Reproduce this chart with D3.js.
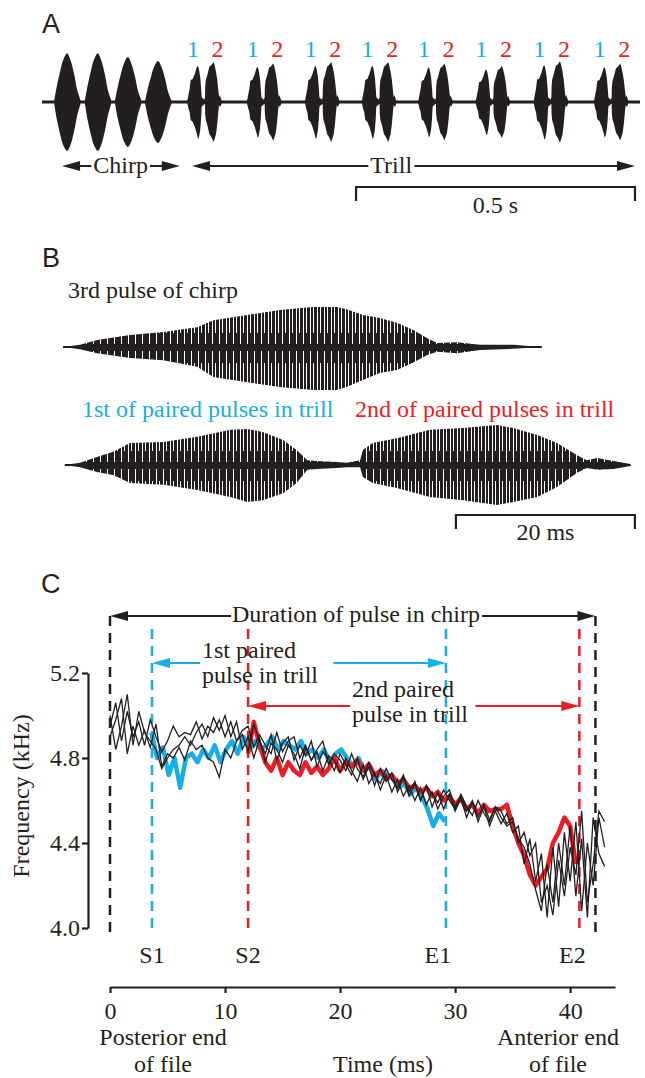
<!DOCTYPE html>
<html>
<head>
<meta charset="utf-8">
<script src="https://cdn.jsdelivr.net/npm/d3@7"></script>
<style>
body { margin: 0; background: #fff; }
</style>
</head>
<body>
<svg id="fig" width="645" height="1078" font-family="Liberation Serif, Times New Roman, serif"></svg>
<script>
var ink = '#231f20', cyan = '#16aee6', red = '#ec1d25';
var serif = '"Liberation Serif","Times New Roman",serif';
var sans = '"Liberation Sans",Arial,sans-serif';
var fs = 24; // text size used all over the figure

// ---------- A: oscillogram (pulse onset in ms, relative size) ----------
var chirpOnsets = [22, 77, 131, 185];
var chirpPeaks = [1.11, 1.11, 1.02, 0.93];
var pairOnsets = [259, 366, 470, 572, 673, 776, 880, 988];
var pairPeaks = [1.0, 0.97, 1.0, 1.0, 0.96, 0.9, 1.02, 0.96];
// chirp pulse outline as seen at the slow time base of A
var aChirpT   = [0, 5, 11, 16, 23, 29, 36, 41, 47];
var aChirpTop = [4, 35, 65, 86, 100, 86, 55, 25, 4];
var aChirpBot = [4, 38, 68, 88, 100, 88, 58, 28, 4];

// ---------- B: envelopes (ms, % of peak above / below baseline) ----------
var chirpEnvT   = [0, 1.9, 3.8, 7.5, 11.2, 15.0, 16.8, 20.6, 24.2, 27.9, 30.6, 31.7, 33.5, 35.4, 37.3, 39.1, 40.7, 41.8, 44.0, 46.6, 50.3, 53.5];
var chirpEnvTop = [0, 5, 16, 27, 34, 45, 61, 73, 84, 91, 91, 86, 73, 66, 55, 39, 20, 9, 11, 5, 5, 0];
var chirpEnvBot = [0, 5, 14, 25, 30, 45, 68, 80, 91, 98, 98, 91, 75, 59, 52, 36, 18, 11, 14, 7, 4, 0];

var trillEnvT   = [0.2, 1.9, 3.8, 5.6, 7.5, 11.2, 15.0, 18.7, 20.6, 22.3, 24.6, 26.1, 27.3, 28.4, 30.6, 31.7, 33.2, 33.5, 34.6, 37.3, 41.0, 44.7, 48.5, 50.3, 53.0, 55.2, 57.4, 58.5, 59.7, 61.5, 63.4];
var trillEnvTop = [0, 5, 18, 30, 50, 52, 64, 80, 82, 75, 57, 34, 11, 9, 7, 5, 11, 34, 50, 61, 80, 84, 91, 84, 68, 50, 23, 11, 16, 9, 2];
var trillEnvBot = [0, 5, 16, 23, 41, 45, 57, 73, 84, 80, 64, 41, 11, 9, 7, 5, 5, 27, 41, 52, 73, 80, 91, 84, 73, 50, 18, 7, 11, 9, 2];

// ---------- C: frequency (kHz), one value every 0.5 ms ----------
var stepC = 0.5;
var blueStart = 3.6;
var blueFreq = [4.92, 4.80, 4.85, 4.72, 4.80, 4.66, 4.80, 4.82, 4.78, 4.84,
                4.80, 4.86, 4.78, 4.84, 4.88, 4.82, 4.90, 4.84, 4.88, 4.84,
                4.86, 4.90, 4.84, 4.88, 4.86, 4.84, 4.88, 4.82, 4.84, 4.80,
                4.84, 4.78, 4.82, 4.84, 4.80, 4.76, 4.80, 4.74, 4.76, 4.70,
                4.74, 4.72, 4.70, 4.66, 4.68, 4.63, 4.66, 4.62, 4.56, 4.48,
                4.54, 4.50];
var redStart = 12.0;
var redFreq = [4.82, 4.97, 4.86, 4.78, 4.74, 4.80, 4.72, 4.78, 4.74, 4.72,
               4.78, 4.73, 4.76, 4.72, 4.75, 4.80, 4.74, 4.78, 4.76, 4.79,
               4.74, 4.77, 4.72, 4.74, 4.70, 4.72, 4.68, 4.70, 4.66, 4.67,
               4.64, 4.66, 4.62, 4.64, 4.60, 4.62, 4.58, 4.61, 4.56, 4.58,
               4.54, 4.58, 4.55, 4.56, 4.56, 4.58, 4.48, 4.40, 4.34, 4.25,
               4.20, 4.24, 4.28, 4.40, 4.45, 4.52, 4.48, 4.30];
var chirpFreq1 = [4.95, 5.06, 4.88, 5.02, 4.90, 4.97, 4.86, 4.98, 4.90, 4.83,
                  4.88, 4.95, 4.90, 4.92, 4.91, 4.97, 4.89, 4.95, 4.92, 4.98,
                  4.90, 4.97, 4.88, 4.93, 4.95, 4.85, 4.91, 4.86, 4.82, 4.92,
                  4.83, 4.88, 4.90, 4.80, 4.86, 4.79, 4.84, 4.88, 4.77, 4.82,
                  4.79, 4.74, 4.82, 4.75, 4.71, 4.78, 4.72, 4.68, 4.75, 4.70,
                  4.66, 4.72, 4.64, 4.69, 4.60, 4.67, 4.63, 4.59, 4.65, 4.60,
                  4.56, 4.63, 4.57, 4.53, 4.60, 4.54, 4.50, 4.57, 4.52, 4.48,
                  4.50, 4.42, 4.38, 4.30, 4.18, 4.08, 4.30, 4.12, 4.40, 4.20,
                  4.48, 4.15, 4.42, 4.05, 4.52, 4.35, 4.29];
var chirpFreq2 = [4.90, 4.98, 5.08, 4.82, 4.95, 4.86, 4.93, 4.85, 4.96, 4.76,
                  4.82, 4.80, 4.85, 4.79, 4.88, 4.84, 4.86, 4.80, 4.78, 4.71,
                  4.84, 4.80, 4.88, 4.91, 4.83, 4.96, 4.88, 4.82, 4.91, 4.79,
                  4.87, 4.90, 4.79, 4.86, 4.81, 4.88, 4.76, 4.83, 4.80, 4.74,
                  4.82, 4.77, 4.72, 4.80, 4.70, 4.76, 4.67, 4.75, 4.69, 4.73,
                  4.64, 4.71, 4.62, 4.68, 4.60, 4.67, 4.57, 4.64, 4.56, 4.63,
                  4.55, 4.61, 4.52, 4.59, 4.50, 4.57, 4.48, 4.55, 4.49, 4.54,
                  4.45, 4.48, 4.30, 4.42, 4.22, 4.35, 4.05, 4.38, 4.10, 4.45,
                  4.22, 4.50, 4.08, 4.40, 4.20, 4.52, 4.38];
var chirpFreq3 = [5.00, 4.84, 4.95, 5.10, 4.86, 5.02, 4.92, 4.88, 4.84, 4.75,
                  4.80, 4.84, 4.86, 4.90, 4.86, 4.92, 4.96, 4.90, 4.99, 4.93,
                  5.00, 4.90, 4.97, 4.84, 4.90, 4.80, 4.89, 4.78, 4.87, 4.84,
                  4.78, 4.86, 4.82, 4.75, 4.85, 4.79, 4.83, 4.74, 4.81, 4.79,
                  4.73, 4.80, 4.74, 4.69, 4.77, 4.68, 4.73, 4.65, 4.72, 4.64,
                  4.70, 4.62, 4.67, 4.60, 4.66, 4.58, 4.64, 4.56, 4.62, 4.65,
                  4.57, 4.62, 4.55, 4.60, 4.52, 4.58, 4.51, 4.57, 4.55, 4.49,
                  4.52, 4.40, 4.45, 4.34, 4.40, 4.12, 4.20, 4.06, 4.32, 4.15,
                  4.38, 4.25, 4.55, 4.12, 4.30, 4.55, 4.50];
var markS1 = 3.65, markS2 = 12.0, markE1 = 29.2, markE2 = 40.8, chirpEnd = 42.2;
var freqTicks = [4.0, 4.4, 4.8, 5.2];
var timeTicks = [0, 10, 20, 30, 40];

var svg = d3.select('#fig');
var defs = svg.append('defs');

function addText(g, x, y, s, size, color, anchor, family) {
    return g.append('text').attr('x', x).attr('y', y).text(s)
        .style('font-family', family || serif).style('font-size', size + 'px')
        .attr('fill', color || ink).attr('text-anchor', anchor || 'start');
}

function head(g, x, y, dir, color, len, half) // dir -1 points left, 1 points right
{
    g.append('path')
        .attr('d', 'M' + x + ',' + y + 'L' + (x - dir * len) + ',' + (y - half) +
            'L' + (x - dir * len) + ',' + (y + half) + 'Z')
        .attr('fill', color);
}

// double headed arrow, broken where the text block sits
function gapArrow(g, x1, x2, y, block, color, gapL, gapR) {
    var bb = block.node().getBBox();
    var len = 18, half = 5;
    g.append('line').attr('x1', x1 + len - 1).attr('x2', bb.x - gapL)
        .attr('y1', y).attr('y2', y).attr('stroke', color).attr('stroke-width', 2);
    g.append('line').attr('x1', bb.x + bb.width + gapR).attr('x2', x2 - len + 1)
        .attr('y1', y).attr('y2', y).attr('stroke', color).attr('stroke-width', 2);
    head(g, x1, y, -1, color, len, half);
    head(g, x2, y, 1, color, len, half);
}

function scaleBar(g, x1, x2, y, label, labelY) {
    g.append('path').attr('d', 'M' + x1 + ',' + (y + 14) + 'V' + y + 'H' + x2 + 'V' + (y + 14))
        .attr('fill', 'none').attr('stroke', ink).attr('stroke-width', 2.2);
    addText(g, (x1 + x2) / 2, labelY, label, fs, ink, 'middle');
}

function envelope(ts, tops, bots) {
    return ts.map(function (t, i) { return {t: t, top: tops[i], bot: bots[i]}; });
}
var chirpEnv = envelope(chirpEnvT, chirpEnvTop, chirpEnvBot);
var trillEnv = envelope(trillEnvT, trillEnvTop, trillEnvBot);
var aChirpEnv = envelope(aChirpT, aChirpTop, aChirpBot);

function pulseArea(xs, ys, onset, peak) {
    return d3.area()
        .x(function (d) { return xs(onset + d.t); })
        .y0(function (d) { return ys(-d.bot * peak); })
        .y1(function (d) { return ys(d.top * peak); });
}

// panel letters
addText(svg, 42, 33, 'A', 27, ink, 'start', sans);
addText(svg, 42, 267, 'B', 27, ink, 'start', sans);
addText(svg, 41, 593, 'C', 27, ink, 'start', sans);

// ================= A =================
var gA = svg.append('g');
var xA = d3.scaleLinear().domain([0, 1072]).range([42, 640]);
var yA = d3.scaleLinear().domain([-100, 100]).range([146, 58]);

gA.append('line').attr('x1', xA(0)).attr('x2', xA(1072))
    .attr('y1', yA(0)).attr('y2', yA(0)).attr('stroke', ink).attr('stroke-width', 3);

chirpOnsets.forEach(function (o, i) {
    gA.append('path').datum(aChirpEnv)
        .attr('d', pulseArea(xA, yA, o, chirpPeaks[i]).curve(d3.curveCatmullRom))
        .attr('fill', ink);
});
pairOnsets.forEach(function (o, i) {
    gA.append('path').datum(trillEnv).attr('d', pulseArea(xA, yA, o, pairPeaks[i])).attr('fill', ink);
    addText(gA, xA(o + 20.6) - 5, 57, '1', 24, cyan, 'middle');
    addText(gA, xA(o + 48.5) + 4, 57, '2', 24, red, 'middle');
});

var chirpLbl = addText(gA, xA(141), 173, 'Chirp', fs, ink, 'middle');
gapArrow(gA, xA(36), xA(247), 166, chirpLbl, ink, 2, 2);
var trillLbl = addText(gA, xA(626), 173, 'Trill', fs, ink, 'middle');
gapArrow(gA, xA(269), xA(1063), 166, trillLbl, ink, 2, 2);
scaleBar(gA, xA(563), xA(1063), 187, '0.5 s', 213);

// ================= B =================
var gB = svg.append('g');
var xB = d3.scaleLinear().domain([0, 20]).range([63, 242]);
var yB1 = d3.scaleLinear().domain([-100, 100]).range([347 + 44, 347 - 44]);
var yB2 = d3.scaleLinear().domain([-100, 100]).range([465 + 44, 465 - 44]);

// white striation of the sampled carrier
function stripes(id, y0) {
    var p = defs.append('pattern').attr('id', id).attr('patternUnits', 'userSpaceOnUse')
        .attr('x', 63).attr('y', y0 - 60).attr('width', 7).attr('height', 120);
    p.append('rect').attr('width', 7).attr('height', 120).attr('fill', ink);
    p.append('rect').attr('x', 2).attr('y', 0).attr('width', 1).attr('height', 57).attr('fill', '#fff');
    p.append('rect').attr('x', 2).attr('y', 64).attr('width', 1).attr('height', 56).attr('fill', '#fff');
    p.append('rect').attr('x', 5).attr('y', 0).attr('width', 1).attr('height', 46).attr('fill', '#fff');
    p.append('rect').attr('x', 5).attr('y', 76).attr('width', 1).attr('height', 44).attr('fill', '#fff');
}
stripes('stripe1', 347);
stripes('stripe2', 465);

gB.append('line').attr('x1', xB(0)).attr('x2', xB(53.5)).attr('y1', 347).attr('y2', 347)
    .attr('stroke', ink).attr('stroke-width', 2);
gB.append('path').datum(chirpEnv).attr('d', pulseArea(xB, yB1, 0, 1)).attr('fill', 'url(#stripe1)');
gB.append('line').attr('x1', xB(0.2)).attr('x2', xB(63.4)).attr('y1', 465).attr('y2', 465)
    .attr('stroke', ink).attr('stroke-width', 2);
gB.append('path').datum(trillEnv).attr('d', pulseArea(xB, yB2, 0, 1)).attr('fill', 'url(#stripe2)');

addText(gB, 68, 298, '3rd pulse of chirp', fs, ink);
addText(gB, 82, 417, '1st of paired pulses in trill', fs, cyan);
addText(gB, 355, 417, '2nd of paired pulses in trill', fs, red);
scaleBar(gB, xB(43.9), xB(63.9), 515, '20 ms', 540);

// ================= C =================
var gC = svg.append('g');
var xC = d3.scaleLinear().domain([0, 43.9]).range([110, 615]);
var yC = d3.scaleLinear().domain([4.0, 5.2]).range([928, 673]);

function vdash(t, y1, y2, color) {
    gC.append('line').attr('x1', xC(t)).attr('x2', xC(t)).attr('y1', y1).attr('y2', y2)
        .attr('stroke', color).attr('stroke-width', 2.5).attr('stroke-dasharray', '10,7');
}
vdash(0, 616, 938, ink);
vdash(chirpEnd, 616, 938, ink);
vdash(markS1, 629, 928, cyan);
vdash(markE1, 629, 928, cyan);
vdash(markS2, 629, 928, red);
vdash(markE2, 629, 928, red);

function freqLine(start) {
    return d3.line()
        .x(function (d, i) { return xC(start + i * stepC); })
        .y(function (d) { return yC(d); });
}
gC.append('path').datum(blueFreq).attr('d', freqLine(blueStart))
    .attr('fill', 'none').attr('stroke', cyan).attr('stroke-width', 4.5).attr('stroke-linejoin', 'round');
gC.append('path').datum(redFreq).attr('d', freqLine(redStart))
    .attr('fill', 'none').attr('stroke', red).attr('stroke-width', 4.5).attr('stroke-linejoin', 'round');
[chirpFreq1, chirpFreq2, chirpFreq3].forEach(function (s) {
    gC.append('path').datum(s).attr('d', freqLine(0))
        .attr('fill', 'none').attr('stroke', ink).attr('stroke-width', 1.3);
});

// axes
var yAxis = gC.append('g').attr('transform', 'translate(88,0)')
    .call(d3.axisLeft(yC).tickValues(freqTicks).tickFormat(d3.format('.1f'))
        .tickSize(6).tickSizeOuter(0).tickPadding(2));
var xAxis = gC.append('g').attr('transform', 'translate(0,987)')
    .call(d3.axisBottom(xC).tickValues(timeTicks).tickSize(6).tickSizeOuter(0).tickPadding(8.5));
[yAxis, xAxis].forEach(function (ax) {
    ax.attr('font-family', null);
    ax.select('.domain').attr('stroke', ink).attr('stroke-width', 2.2);
    ax.selectAll('.tick line').attr('stroke', ink).attr('stroke-width', 2.2);
    ax.selectAll('.tick text').attr('fill', ink)
        .style('font-family', serif).style('font-size', fs + 'px');
});

addText(gC, 0, 0, 'Frequency (kHz)', fs, ink, 'middle')
    .attr('transform', 'translate(29,796) rotate(-90)');

// marker labels
addText(gC, xC(markS1), 963, 'S1', fs, ink, 'middle');
addText(gC, xC(markS2), 963, 'S2', fs, ink, 'middle');
addText(gC, xC(markE1) - 8, 963, 'E1', fs, ink, 'middle');
addText(gC, xC(markE2) - 7, 963, 'E2', fs, ink, 'middle');

addText(gC, 163, 1045, 'Posterior end', fs, ink, 'middle');
addText(gC, 163, 1072, 'of file', fs, ink, 'middle');
addText(gC, 383, 1072, 'Time (ms)', fs, ink, 'middle');
addText(gC, 558, 1045, 'Anterior end', fs, ink, 'middle');
addText(gC, 558, 1072, 'of file', fs, ink, 'middle');

// arrows over the plot
var durLbl = addText(gC, 356, 622, 'Duration of pulse in chirp', fs, ink, 'middle');
gapArrow(gC, xC(0), xC(chirpEnd), 616, durLbl, ink, 1, 2);

var blk1 = gC.append('g');
addText(blk1, 202, 658, '1st paired', fs, ink);
addText(blk1, 202, 683, 'pulse in trill', fs, ink);
gapArrow(gC, xC(markS1), xC(markE1), 663, blk1, cyan, 2, 15);

var blk2 = gC.append('g');
addText(blk2, 352, 697, '2nd paired', fs, ink);
addText(blk2, 352, 722, 'pulse in trill', fs, ink);
gapArrow(gC, xC(markS2), xC(markE2), 706, blk2, red, 2, 7);
</script>
</body>
</html>
